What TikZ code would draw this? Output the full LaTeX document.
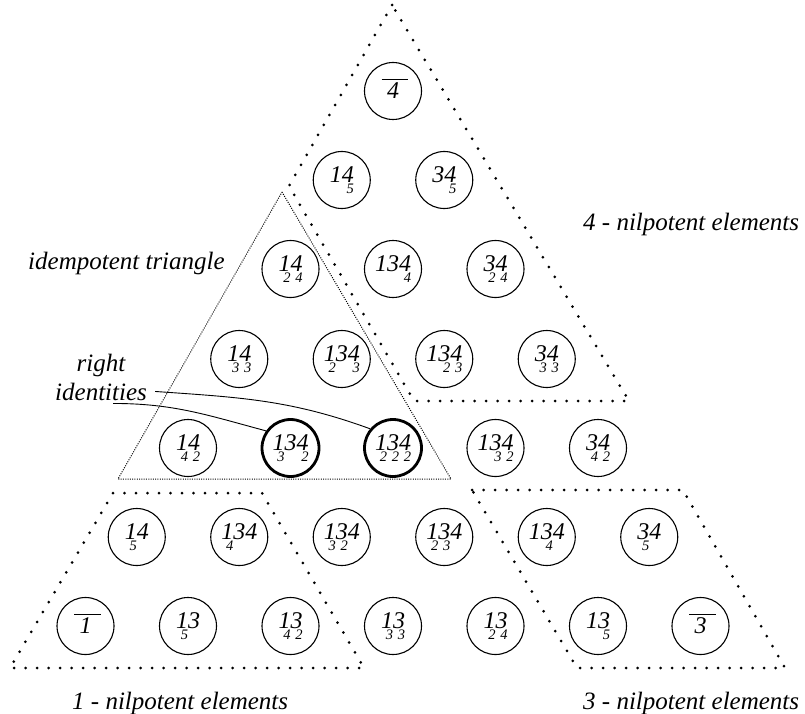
\documentclass[tikz,border=0pt]{standalone}
\usepackage{fontspec}
\setmainfont{Liberation Serif}
\usepackage{tikz}
\usetikzlibrary{positioning}
\newcommand{\digitfont}{\fontsize{24}{28}\selectfont\itshape}
\newcommand{\labelfont}{\fontsize{25}{29}\selectfont\itshape}
\newcommand{\subfont}{\fontsize{14.5}{16}\selectfont}
\newcommand{\dsub}[2]{#1\llap{\makebox[0.5em]{\raisebox{-0.48em}{\smash{\subfont #2}}}\kern-0.1em}}
\newcommand{\bardg}[1]{\makebox[0pt][l]{\hspace{-0.22em}\smash{\rule[0.8em]{1.1em}{1.1pt}}}#1}
\tikzstyle{elem} = [circle,draw,line width=1.1pt,minimum size=57pt,inner sep=0pt,font=\digitfont]
\tikzstyle{ident} = [elem,line width=2.8pt]
\tikzstyle{region} = [line width=3pt,line cap=round,dash pattern=on 0pt off 11.5pt]
\tikzstyle{idemp} = [line width=1pt,dash pattern=on 1pt off 1.3pt]
\tikzstyle{lbl} = [font=\labelfont,inner sep=0pt]

\begin{document}
\begin{tikzpicture}[x=1pt,y=-1pt]
\useasboundingbox (0,0) rectangle (805,714);

\draw[region] (392,5) -- (289,186) -- (414,401) -- (629,401) -- cycle;
\draw[region] (113,493) -- (262,493) -- (364,668) -- (10,668) -- cycle;
\draw[region] (472,490) -- (683,490) -- (785,668) -- (577,668) -- cycle;
\draw[idemp] (282,192) -- (451,479) -- (118,479) -- cycle;

\node[elem] (e00) at (393,91) {\bardg{4}};

\node[elem] (e10) at (341.75,180) {1\dsub{4}{5}};
\node[elem] (e11) at (444.25,180) {3\dsub{4}{5}};

\node[elem] (e20) at (290.5,269) {\dsub{1}{2}\dsub{4}{4}};
\node[elem] (e21) at (393,269) {13\dsub{4}{4}};
\node[elem] (e22) at (495.5,269) {\dsub{3}{2}\dsub{4}{4}};

\node[elem] (e30) at (239.25,359) {\dsub{1}{3}\dsub{4}{3}};
\node[elem] (e31) at (341.75,359) {\dsub{1}{2}3\dsub{4}{3}};
\node[elem] (e32) at (444.25,359) {1\dsub{3}{2}\dsub{4}{3}};
\node[elem] (e33) at (546.75,359) {\dsub{3}{3}\dsub{4}{3}};

\node[elem] (e40) at (188,448) {\dsub{1}{4}\dsub{4}{2}};
\node[ident] (e41) at (290.5,448) {\dsub{1}{3}3\dsub{4}{2}};
\node[ident] (e42) at (393,448) {\dsub{1}{2}\dsub{3}{2}\dsub{4}{2}};
\node[elem] (e43) at (495.5,448) {1\dsub{3}{3}\dsub{4}{2}};
\node[elem] (e44) at (598,448) {\dsub{3}{4}\dsub{4}{2}};

\node[elem] (e50) at (136.75,537) {\dsub{1}{5}4};
\node[elem] (e51) at (239.25,537) {\dsub{1}{4}34};
\node[elem] (e52) at (341.75,537) {\dsub{1}{3}\dsub{3}{2}4};
\node[elem] (e53) at (444.25,537) {\dsub{1}{2}\dsub{3}{3}4};
\node[elem] (e54) at (546.75,537) {1\dsub{3}{4}4};
\node[elem] (e55) at (649.25,537) {\dsub{3}{5}4};

\node[elem] (e60) at (85.5,626) {\bardg{1}};
\node[elem] (e61) at (188,626) {\dsub{1}{5}3};
\node[elem] (e62) at (290.5,626) {\dsub{1}{4}\dsub{3}{2}};
\node[elem] (e63) at (393,626) {\dsub{1}{3}\dsub{3}{3}};
\node[elem] (e64) at (495.5,626) {\dsub{1}{2}\dsub{3}{4}};
\node[elem] (e65) at (598,626) {1\dsub{3}{5}};
\node[elem] (e66) at (700.5,626) {\bardg{3}};

\node[lbl,anchor=base west] (nil4) at (583,230) {4 - nilpotent elements};
\node[lbl,anchor=base west] (idt) at (28,269) {idempotent triangle};
\node[lbl,anchor=base] (rid1) at (101,371) {right};
\node[lbl,anchor=base west] (rid2) at (55,400) {identities};
\node[lbl,anchor=base west] (nil1) at (72,709) {1 - nilpotent elements};
\node[lbl,anchor=base west] (nil3) at (583,709) {3 - nilpotent elements};

\draw[line width=0.9pt] ([xshift=8pt]rid2.east) to[out=-4,in=160] (e42.140);
\draw[line width=0.9pt] ([xshift=12pt,yshift=-3pt]rid2.south) to[out=0,in=165] (e41.145);
\end{tikzpicture}
\end{document}
